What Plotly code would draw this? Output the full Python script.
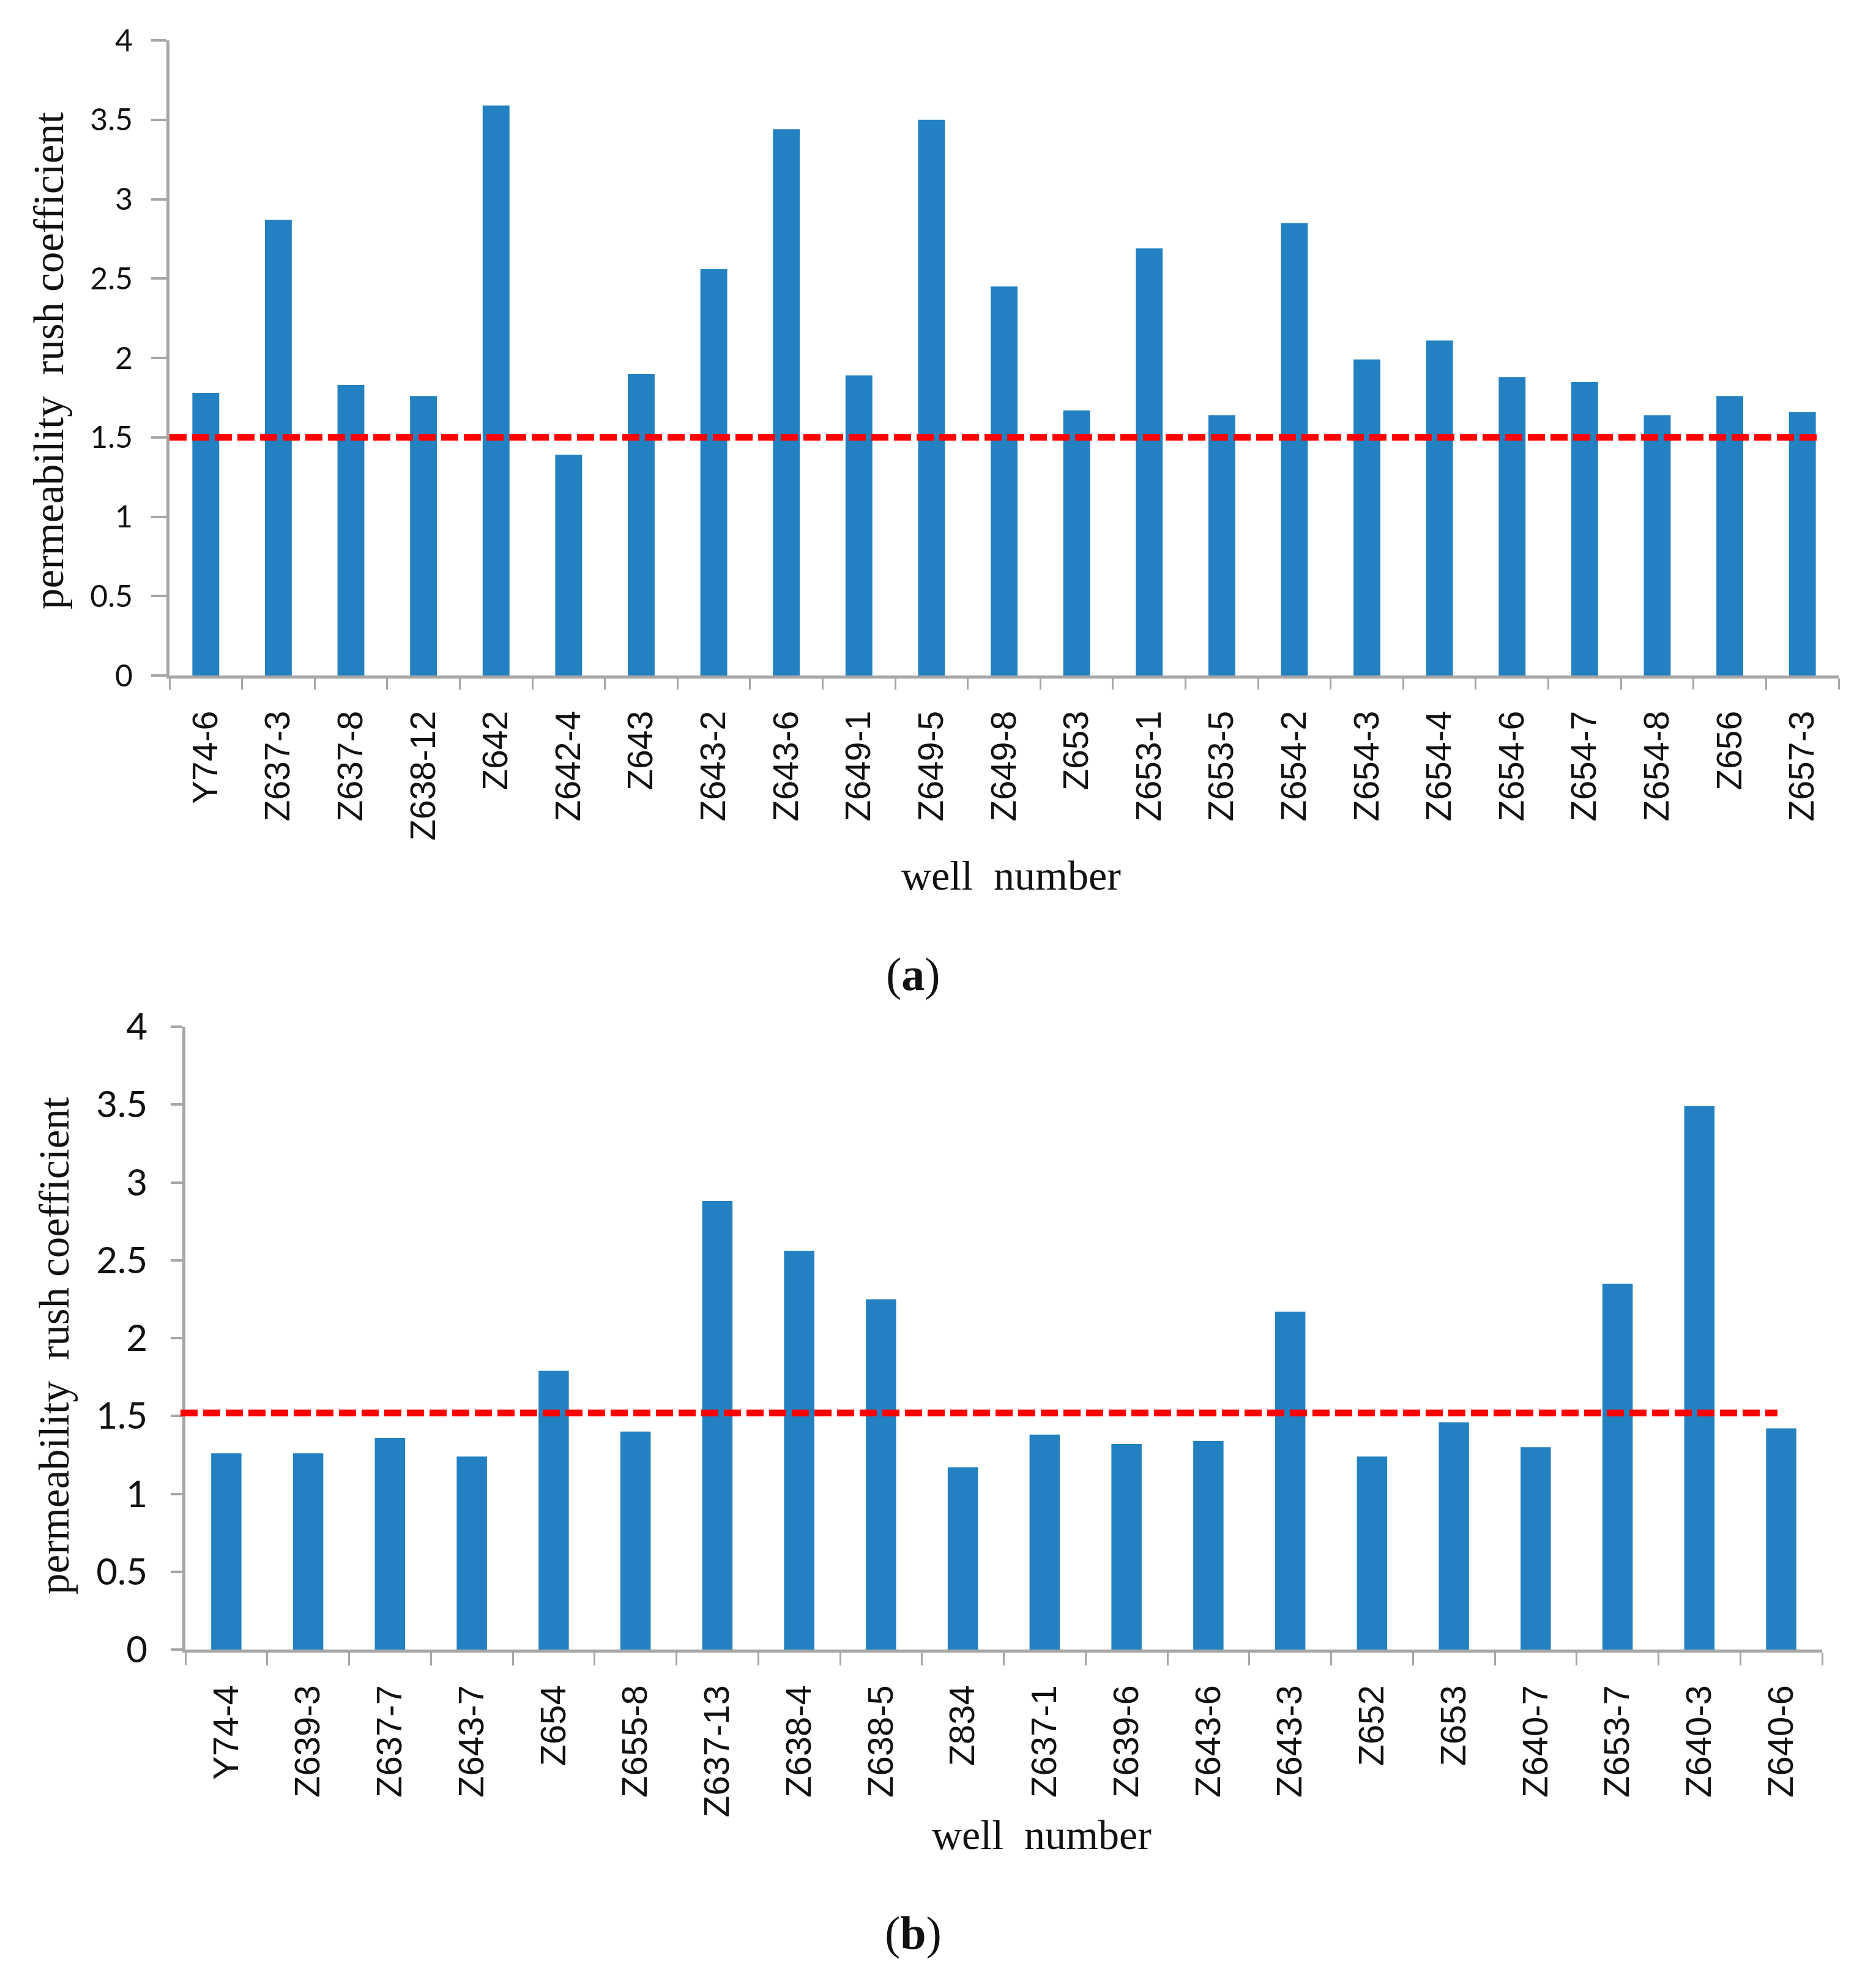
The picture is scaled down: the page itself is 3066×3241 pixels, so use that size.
import plotly.graph_objects as go

# ---------------- data ----------------
wells_a = ["Y74-6", "Z637-3", "Z637-8", "Z638-12", "Z642", "Z642-4", "Z643", "Z643-2",
           "Z643-6", "Z649-1", "Z649-5", "Z649-8", "Z653", "Z653-1", "Z653-5", "Z654-2",
           "Z654-3", "Z654-4", "Z654-6", "Z654-7", "Z654-8", "Z656", "Z657-3"]
coef_a = [1.78, 2.87, 1.83, 1.76, 3.59, 1.39, 1.90, 2.56, 3.44, 1.89, 3.50, 2.45,
          1.67, 2.69, 1.64, 2.85, 1.99, 2.11, 1.88, 1.85, 1.64, 1.76, 1.66]

wells_b = ["Y74-4", "Z639-3", "Z637-7", "Z643-7", "Z654", "Z655-8", "Z637-13", "Z638-4",
           "Z638-5", "Z834", "Z637-1", "Z639-6", "Z643-6", "Z643-3", "Z652", "Z653",
           "Z640-7", "Z653-7", "Z640-3", "Z640-6"]
coef_b = [1.26, 1.26, 1.36, 1.24, 1.79, 1.40, 2.88, 2.56, 2.25, 1.17, 1.38, 1.32,
          1.34, 2.17, 1.24, 1.46, 1.30, 2.35, 3.49, 1.42]

threshold_a = 1.5
threshold_b = 1.52

y_ticks = [0, 0.5, 1, 1.5, 2, 2.5, 3, 3.5, 4]
y_title = "permeability  rush coefficient"
x_title = "well  number"

# ---------------- style ----------------
W, H = 3066, 3241
BAR = "#2381c1"
AXIS = "#a6a6a6"
SERIF = "Liberation Serif"


def px(x):
    return x / W


def py(y):
    return 1 - y / H


fig = go.Figure()
fig.add_trace(go.Bar(x=wells_a, y=coef_a, marker=dict(color=BAR, line=dict(width=0)),
                     width=0.37, xaxis="x", yaxis="y", showlegend=False))
fig.add_trace(go.Bar(x=wells_b, y=coef_b, marker=dict(color=BAR, line=dict(width=0)),
                     width=0.37, xaxis="x2", yaxis="y2", showlegend=False))


def xaxis(domain, anchor, size, standoff, ticklen):
    return dict(domain=domain, anchor=anchor, type="category", automargin=False,
                showline=True, linecolor=AXIS, linewidth=5,
                ticks="outside", tickson="boundaries", ticklen=ticklen, tickwidth=3,
                tickcolor=AXIS, tickangle=-90, showgrid=False, zeroline=False,
                tickfont=dict(family="Liberation Sans", size=size, color="#111111"),
                ticklabelstandoff=standoff, fixedrange=True)


def yaxis(domain, anchor, size, standoff, ticklen):
    return dict(domain=domain, anchor=anchor, range=[0, 4], tickvals=y_ticks,
                automargin=False,
                showline=True, linecolor=AXIS, linewidth=5,
                ticks="outside", ticklen=ticklen, tickwidth=4, tickcolor=AXIS,
                showgrid=False, zeroline=False,
                tickfont=dict(family="Lato", size=size, color="#111111"),
                ticklabelstandoff=standoff, fixedrange=True)


fig.update_layout(
    width=W, height=H, autosize=False,
    margin=dict(l=0, r=0, t=0, b=0, pad=0, autoexpand=False),
    paper_bgcolor="white", plot_bgcolor="white", bargap=0.63,
    xaxis=xaxis([px(277), px(3005)], "y", 57, 30, 18),
    yaxis=yaxis([py(1104), py(66)], "x", 50, 20, 25),
    xaxis2=xaxis([px(303), px(2978)], "y2", 58, 30, 21),
    yaxis2=yaxis([py(2696), py(1678)], "x2", 60, 26, 19),
)

dash = "28px,9px"
fig.add_shape(type="line", xref="x domain", yref="y", x0=0, x1=0.987,
              y0=threshold_a, y1=threshold_a, layer="above",
              line=dict(color="#ff0000", width=11, dash=dash))
fig.add_shape(type="line", xref="x2 domain", yref="y2", x0=-0.003, x1=0.9727,
              y0=threshold_b, y1=threshold_b, layer="above",
              line=dict(color="#ff0000", width=11, dash=dash))

ann = [
    dict(text=y_title, x=px(80), y=py(590), textangle=-90, size=69),
    dict(text=y_title, x=px(89), y=py(2200), textangle=-90, size=69),
    dict(text=x_title, x=px(1652), y=py(1431), textangle=0, size=68),
    dict(text=x_title, x=px(1702), y=py(2999), textangle=0, size=68),
    dict(text="(<b>a</b>)", x=px(1492), y=py(1592), textangle=0, size=76),
    dict(text="(<b>b</b>)", x=px(1492), y=py(3159), textangle=0, size=76),
]
for a in ann:
    fig.add_annotation(text=a["text"], x=a["x"], y=a["y"], xref="paper", yref="paper",
                       xanchor="center", yanchor="middle", showarrow=False,
                       textangle=a["textangle"],
                       font=dict(family=SERIF, size=a["size"], color="#111111"))

fig.write_html("out.html", config={"displayModeBar": False},
               post_script="document.body.style.margin='0';")
